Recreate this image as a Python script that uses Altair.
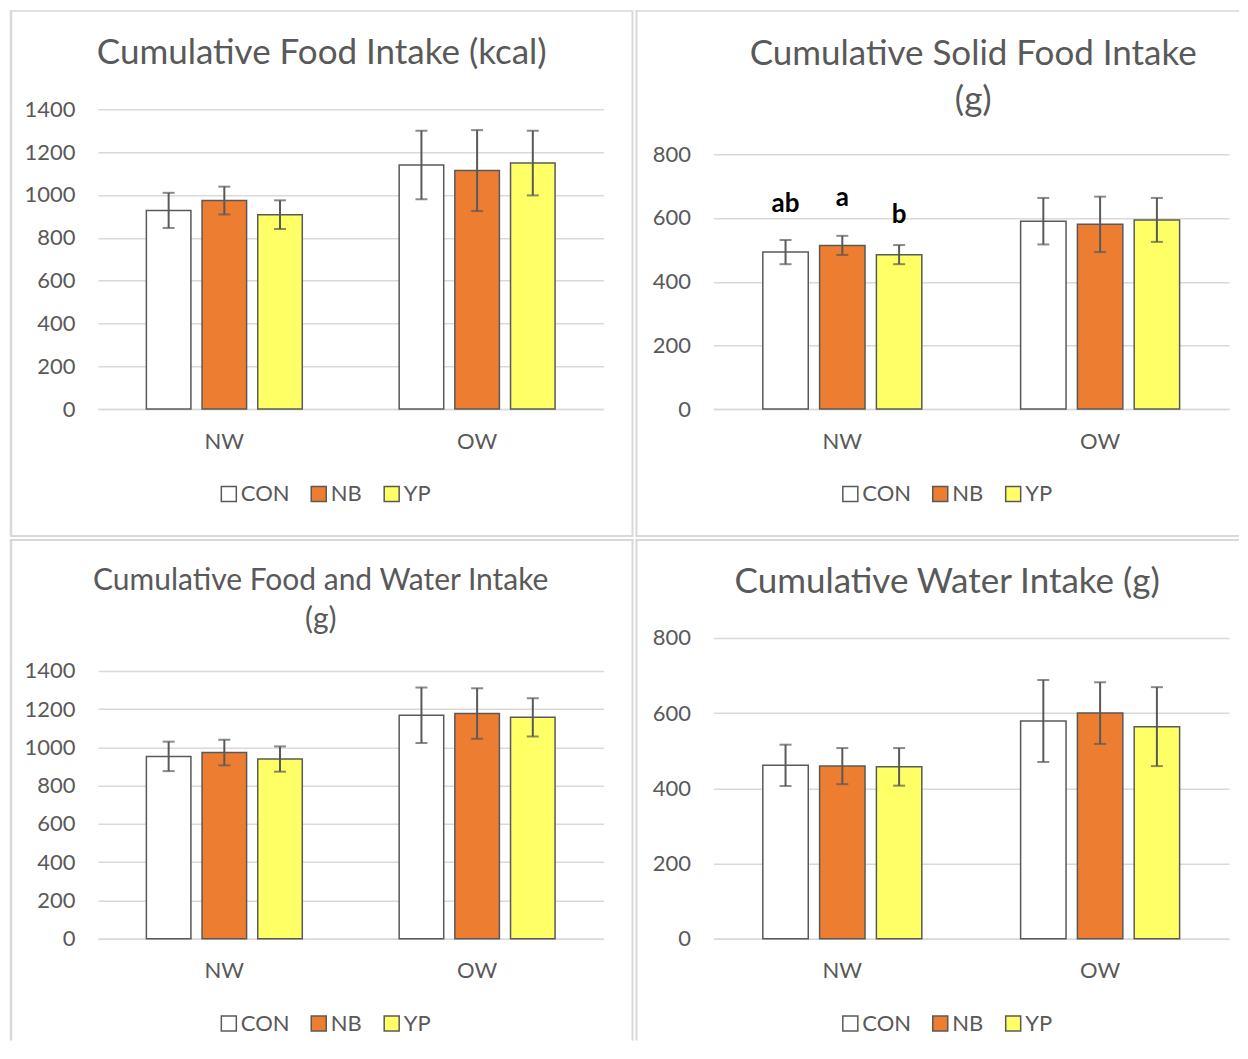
import altair as alt
import pandas as pd

# ---------------- data ----------------
treatments = ["CON", "NB", "YP"]
groups = ["NW", "OW"]
bar_colors = ["#FFFFFF", "#ED7D31", "#FFFF66"]

kcal_mean = [928, 974, 908, 1140, 1114, 1149]
kcal_err = [82, 65, 67, 160, 189, 151]
solid_mean = [493, 514, 485, 590, 580, 594]
solid_err = [38, 30, 30, 73, 87, 69]
foodwater_mean = [953, 973, 939, 1168, 1177, 1157]
foodwater_err = [77, 67, 66, 145, 132, 100]
water_mean = [461, 459, 457, 579, 600, 564]
water_err = [55, 48, 50, 109, 82, 105]

sig_group = ["NW", "NW", "NW"]
sig_treatment = ["CON", "NB", "YP"]
sig_letters = ["ab", "a", "b"]
sig_letter_y = [620, 639, 583]

ticks_1400 = [0, 200, 400, 600, 800, 1000, 1200, 1400]
ticks_800 = [0, 200, 400, 600, 800]

GRAY = "#595959"
FRAME = "#d9d9d9"
FONT = "Lato"


def make_df(means, errs):
    rows = []
    i = 0
    for g in groups:
        for t in treatments:
            rows.append({"group": g, "treatment": t, "value": means[i],
                         "lo": means[i] - errs[i], "hi": means[i] + errs[i]})
            i += 1
    return pd.DataFrame(rows)


def frame_layers(edges):
    out = []
    for (x1, x2, y1, y2, w) in edges:
        out.append(
            alt.Chart(pd.DataFrame({"k": [0]}))
            .mark_rule(color=FRAME, strokeWidth=w, strokeCap="butt")
            .encode(x=alt.value(x1), x2=alt.value(x2), y=alt.value(y1), y2=alt.value(y2))
        )
    return out


def panel(title_lines, title_size, line_h, title_dx, title_dy, means, errs,
          ticks, dmax, w, h, ypad, legx, legy, edges, letters=None):
    df = make_df(means, errs)
    xenc = alt.X("group:N", sort=groups,
                 scale=alt.Scale(paddingInner=0, paddingOuter=0),
                 axis=alt.Axis(title=None, labelAngle=0, labelFont=FONT, labelFontSize=22,
                               labelColor=GRAY, labelPadding=22, ticks=False,
                               domain=True, domainColor=FRAME, domainWidth=1.5, grid=False))
    xoff = alt.XOffset("treatment:N", sort=treatments,
                       scale=alt.Scale(domain=treatments, paddingInner=0.2, paddingOuter=0.87))
    yscale = alt.Scale(domain=[0, dmax], nice=False, zero=True)
    yaxis = alt.Axis(title=None, values=ticks, format="d", grid=True, gridColor=FRAME,
                     gridWidth=1.5, domain=False, ticks=False, labelFont=FONT,
                     labelFontSize=22, labelColor=GRAY, labelPadding=ypad)

    base = alt.Chart(df)
    bars = base.mark_bar(stroke=GRAY, strokeWidth=1.5).encode(
        x=xenc, xOffset=xoff,
        y=alt.Y("value:Q", scale=yscale, axis=yaxis),
        color=alt.Color("treatment:N", sort=treatments,
                        scale=alt.Scale(domain=treatments, range=bar_colors),
                        legend=alt.Legend(title=None, orient="none", legendX=legx, legendY=legy,
                                          direction="horizontal", symbolType="square",
                                          symbolSize=225, symbolStrokeColor=GRAY,
                                          symbolStrokeWidth=1.5, labelFont=FONT,
                                          labelFontSize=22, labelColor=GRAY, labelOffset=1,
                                          columnPadding=18, padding=0)),
    )
    errs_rule = base.mark_rule(color=GRAY, strokeWidth=2).encode(
        x=xenc, xOffset=xoff, y=alt.Y("lo:Q", scale=yscale), y2="hi:Q")
    cap_hi = base.mark_tick(color=GRAY, orient="horizontal", size=12, thickness=2).encode(
        x=xenc, xOffset=xoff, y=alt.Y("hi:Q", scale=yscale))
    cap_lo = base.mark_tick(color=GRAY, orient="horizontal", size=12, thickness=2).encode(
        x=xenc, xOffset=xoff, y=alt.Y("lo:Q", scale=yscale))
    layers = frame_layers(edges) + [bars, errs_rule, cap_hi, cap_lo]
    if letters is not None:
        txt = alt.Chart(letters).mark_text(font=FONT, fontSize=26, fontWeight="bold",
                                           color="#000000", baseline="alphabetic").encode(
            x=xenc, xOffset=xoff, y=alt.Y("ypos:Q", scale=yscale), text="label:N")
        layers.append(txt)
    return alt.layer(*layers).properties(
        width=w, height=h,
        title=alt.TitleParams(text=title_lines, fontSize=title_size, font=FONT,
                              fontWeight="normal", color=GRAY, anchor="middle",
                              frame="group", baseline="alphabetic", offset=0,
                              dx=title_dx, dy=title_dy, lineHeight=line_h),
    )


letters_df = pd.DataFrame({"group": sig_group, "treatment": sig_treatment,
                           "label": sig_letters, "ypos": sig_letter_y})

p1 = panel(["Cumulative Food Intake (kcal)"], 35, 45, -29, 90,
           kcal_mean, kcal_err, ticks_1400, 1400, 506, 300, 23, 120, 374,
           [(-87, -87, -99.25, 427, 2.5), (-88.25, 535, -98.5, -98.5, 1.5),
            (535, 535, -99, 427, 2), (-88, 536, 427, 427, 2)])
p2 = panel(["Cumulative Solid Food Intake", "(g)"], 35, 46, 2, 137,
           solid_mean, solid_err, ticks_800, 941.2, 516, 300, 23, 126, 374,
           [(-77, -77, -99.25, 427, 2), (-78, 526, -98.5, -98.5, 1.5),
            (-78, 526, 427, 427, 2)], letters=letters_df)
p3 = panel(["Cumulative Food and Water Intake", "(g)"], 30, 39, -30, 121,
           foodwater_mean, foodwater_err, ticks_1400, 1572.4, 506, 301, 23, 120, 375,
           [(-87, -87, -98, 403, 2.5), (-88.25, 536, -98, -98, 2),
            (535, 535, -99, 403, 2)])
p4 = panel(["Cumulative Water Intake (g)"], 35, 45, -24, 90,
           water_mean, water_err, ticks_800, 800, 516, 301, 23, 126, 375,
           [(-77, -77, -99, 403, 2), (-78, 526, -98, -98, 2)])

chart = (
    alt.concat(p1, p2, p3, p4, columns=2, spacing=0)
    .resolve_scale(x="independent", y="independent", xOffset="independent",
                   color="independent")
    .properties(padding={"left": 0, "top": 0, "right": 0, "bottom": 0})
    .configure(font=FONT)
    .configure_view(stroke=None, strokeWidth=0)
)

chart.save("out.html", embed_options={"renderer": "svg", "actions": False})
